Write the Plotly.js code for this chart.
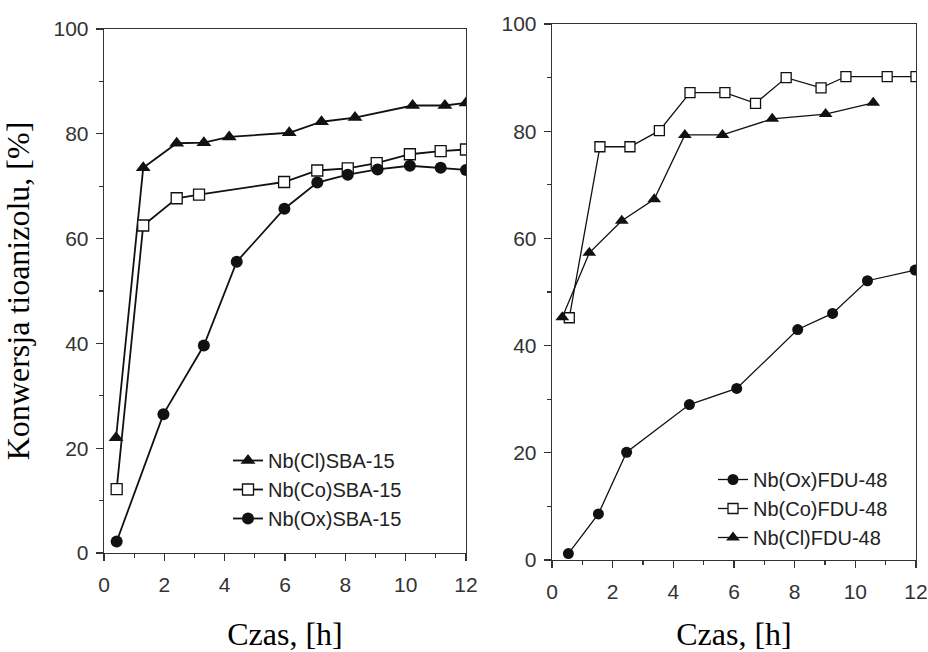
<!DOCTYPE html>
<html>
<head>
<meta charset="utf-8">
<script src="https://cdn.plot.ly/plotly-3.0.1.min.js"></script>
<style>html,body{margin:0;padding:0;background:#fff;}#chart{width:928px;height:652px;}</style>
</head>
<body>
<div id="chart"></div>
<script>
// ---- Left panel (SBA-15) ----
const sbaClTime = [0.40, 1.30, 2.41, 3.31, 4.15, 6.14, 7.21, 8.32, 10.23, 11.30, 12.0];
const sbaClConv = [22.0, 73.5, 78.2, 78.3, 79.4, 80.2, 82.3, 83.1, 85.4, 85.4, 85.9];
const sbaCoTime = [0.42, 1.30, 2.41, 3.15, 5.97, 7.07, 8.08, 9.04, 10.14, 11.16, 12.0];
const sbaCoConv = [12.2, 62.5, 67.7, 68.4, 70.8, 73.0, 73.4, 74.4, 76.1, 76.7, 77.0];
const sbaOxTime = [0.42, 1.97, 3.31, 4.40, 5.98, 7.07, 8.08, 9.07, 10.14, 11.16, 12.0];
const sbaOxConv = [2.2, 26.5, 39.6, 55.6, 65.7, 70.7, 72.2, 73.2, 73.9, 73.5, 73.1];

// ---- Right panel (FDU-48) ----
const fduOxTime = [0.54, 1.53, 2.46, 4.53, 6.09, 8.10, 9.25, 10.40, 11.97];
const fduOxConv = [1.2, 8.6, 20.1, 29.0, 32.0, 43.0, 46.0, 52.1, 54.1];
const fduCoTime = [0.57, 1.58, 2.57, 3.54, 4.55, 5.70, 6.71, 7.72, 8.87, 9.69, 11.05, 12.0];
const fduCoConv = [45.2, 77.1, 77.1, 80.1, 87.2, 87.2, 85.2, 90.0, 88.1, 90.2, 90.2, 90.2];
const fduClTime = [0.34, 1.23, 2.30, 3.37, 4.38, 5.62, 7.26, 9.02, 10.59];
const fduClConv = [45.3, 57.3, 63.3, 67.3, 79.3, 79.3, 82.3, 83.2, 85.3];

const ink = '#111';
function tr(x, y, name, symbol, size, xa, ya, lw, leg) {
  const open = symbol.indexOf('open') >= 0;
  return {
    x: x, y: y, name: name, type: 'scatter', mode: 'lines+markers',
    xaxis: xa, yaxis: ya, legend: leg, cliponaxis: true,
    line: {color: ink, width: lw},
    marker: {symbol: symbol.replace('-open',''), size: size,
             color: open ? '#fff' : ink,
             line: {color: ink, width: open ? 1.3 : 0}}
  };
}

const data = [
  tr(sbaClTime, sbaClConv, 'Nb(Cl)SBA-15', 'triangle-up', 13, 'x', 'y', 1.8, 'legend'),
  tr(sbaCoTime, sbaCoConv, 'Nb(Co)SBA-15', 'square-open', 11, 'x', 'y', 1.8, 'legend'),
  tr(sbaOxTime, sbaOxConv, 'Nb(Ox)SBA-15', 'circle', 12, 'x', 'y', 1.8, 'legend'),
  tr(fduOxTime, fduOxConv, 'Nb(Ox)FDU-48', 'circle', 11, 'x2', 'y2', 1.3, 'legend2'),
  tr(fduCoTime, fduCoConv, 'Nb(Co)FDU-48', 'square-open', 10, 'x2', 'y2', 1.3, 'legend2'),
  tr(fduClTime, fduClConv, 'Nb(Cl)FDU-48', 'triangle-up', 12, 'x2', 'y2', 1.3, 'legend2')
];

const tickFont = {family: 'Liberation Sans, Arial, sans-serif', size: 21, color: '#333'};
const titleFont = {family: 'Liberation Serif, Times New Roman, serif', size: 32, color: '#000'};

function xax(domain, anchor) {
  return {
    domain: domain, anchor: anchor, range: [0, 12], tickvals: [0,2,4,6,8,10,12],
    ticks: 'outside', ticklen: 7, tickwidth: 1.3, tickcolor: '#333',
    minor: {dtick: 1, tick0: 0, ticks: 'outside', ticklen: 4, tickwidth: 1.2, tickcolor: '#333'},
    showline: true, mirror: true, linecolor: '#333', linewidth: 1.3,
    showgrid: false, zeroline: false, tickfont: tickFont, ticklabelstandoff: 5,
    title: {text: 'Czas, [h]', font: titleFont, standoff: 32}
  };
}
function yax(domain, anchor, title) {
  const a = {
    domain: domain, anchor: anchor, range: [0, 100], tickvals: [0,20,40,60,80,100],
    ticks: 'outside', ticklen: 7, tickwidth: 1.3, tickcolor: '#333',
    minor: {dtick: 10, tick0: 0, ticks: 'outside', ticklen: 4, tickwidth: 1.2, tickcolor: '#333'},
    showline: true, mirror: true, linecolor: '#333', linewidth: 1.3,
    showgrid: false, zeroline: false, tickfont: tickFont, ticklabelstandoff: 3
  };
  if (title) a.title = {text: title, font: titleFont, standoff: 16};
  return a;
}

const layout = {
  width: 928, height: 652,
  margin: {l: 0, r: 0, t: 0, b: 0},
  paper_bgcolor: '#fff', plot_bgcolor: '#fff',
  xaxis: xax([104/928, 466/928], 'y'),
  yaxis: yax([1 - 553/652, 1 - 29/652], 'x', 'Konwersja tioanizolu, [%]'),
  xaxis2: xax([552/928, 916/928], 'y2'),
  yaxis2: yax([1 - 560/652, 1 - 24/652], 'x2', null),
  legend: {x: 228/928, y: 1 - 441/652, xanchor: 'left', yanchor: 'top',
           bgcolor: 'rgba(0,0,0,0)', borderwidth: 0, tracegroupgap: 0,
           font: {family: 'Liberation Sans, Arial, sans-serif', size: 20, color: '#222'}},
  legend2: {x: 713/928, y: 1 - 460/652, xanchor: 'left', yanchor: 'top',
           bgcolor: 'rgba(0,0,0,0)', borderwidth: 0, tracegroupgap: 0,
           font: {family: 'Liberation Sans, Arial, sans-serif', size: 20, color: '#222'}},
  showlegend: true
};

Plotly.newPlot('chart', data, layout, {displayModeBar: false, staticPlot: true});
</script>
</body>
</html>
